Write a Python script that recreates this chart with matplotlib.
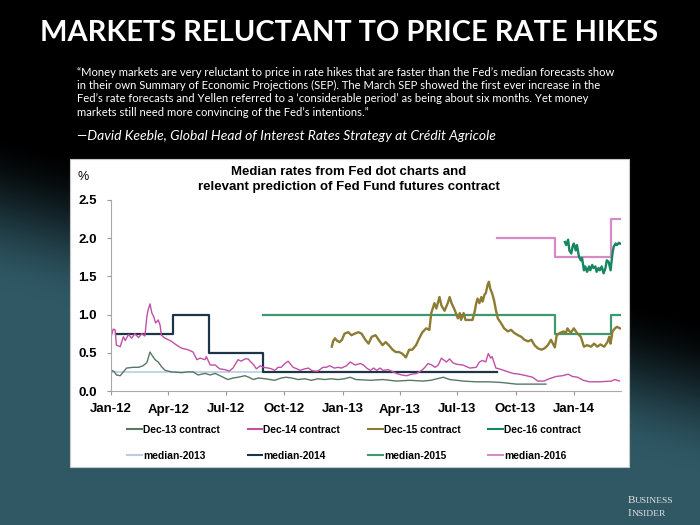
import numpy as np
import pandas as pd
import matplotlib
matplotlib.use('Agg')
import matplotlib.pyplot as plt
import matplotlib.dates as mdates
from matplotlib.patches import Rectangle

# ---- data ----
dec13_dates = ['2012-01-01', '2012-01-03', '2012-01-07', '2012-01-10', '2012-01-16', '2012-01-21',
               '2012-01-26', '2012-02-05', '2012-02-14', '2012-02-21', '2012-02-27', '2012-03-03',
               '2012-03-06', '2012-03-11', '2012-03-16', '2012-03-21', '2012-03-27', '2012-04-06',
               '2012-04-22', '2012-05-02', '2012-05-10', '2012-05-18', '2012-05-29', '2012-06-06',
               '2012-06-14', '2012-06-24', '2012-07-04', '2012-07-12', '2012-07-20', '2012-07-31',
               '2012-08-06', '2012-08-13', '2012-08-21', '2012-09-01', '2012-09-16', '2012-09-26',
               '2012-10-04', '2012-10-13', '2012-10-23', '2012-11-02', '2012-11-13', '2012-11-23',
               '2012-12-04', '2012-12-14', '2012-12-25', '2013-01-04', '2013-01-13', '2013-01-22',
               '2013-02-14', '2013-03-06', '2013-03-27', '2013-04-17', '2013-05-08', '2013-05-20',
               '2013-06-09', '2013-06-19', '2013-06-30', '2013-07-10', '2013-07-31', '2013-08-21',
               '2013-09-11', '2013-10-02', '2013-10-20', '2013-11-18']
dec13_vals = [0.21, 0.27, 0.25, 0.21, 0.20, 0.25,
              0.30, 0.31, 0.31, 0.33, 0.37, 0.51,
              0.47, 0.41, 0.38, 0.32, 0.27, 0.25,
              0.24, 0.25, 0.25, 0.21, 0.23, 0.21,
              0.23, 0.19, 0.15, 0.17, 0.18, 0.20,
              0.18, 0.15, 0.17, 0.16, 0.14, 0.17,
              0.18, 0.17, 0.15, 0.16, 0.14, 0.16,
              0.15, 0.16, 0.15, 0.16, 0.18, 0.15,
              0.14, 0.15, 0.13, 0.14, 0.13, 0.14,
              0.18, 0.15, 0.14, 0.13, 0.12, 0.12,
              0.11, 0.09, 0.09, 0.09]

dec14_dates = ['2012-01-01', '2012-01-05', '2012-01-08', '2012-01-10', '2012-01-16', '2012-01-21',
               '2012-01-24', '2012-01-29', '2012-02-03', '2012-02-08', '2012-02-14', '2012-02-19',
               '2012-02-24', '2012-02-27', '2012-02-29', '2012-03-03', '2012-03-06', '2012-03-09',
               '2012-03-12', '2012-03-16', '2012-03-19', '2012-03-21', '2012-03-27', '2012-04-06',
               '2012-04-14', '2012-04-22', '2012-05-02', '2012-05-10', '2012-05-16', '2012-05-21',
               '2012-05-29', '2012-05-31', '2012-06-06', '2012-06-14', '2012-06-21', '2012-06-29',
               '2012-07-06', '2012-07-12', '2012-07-20', '2012-07-25', '2012-07-31', '2012-08-05',
               '2012-08-08', '2012-08-13', '2012-08-18', '2012-08-24', '2012-08-29', '2012-09-06',
               '2012-09-11', '2012-09-16', '2012-09-21', '2012-09-26', '2012-10-02', '2012-10-07',
               '2012-10-10', '2012-10-15', '2012-10-21', '2012-10-26', '2012-11-02', '2012-11-08',
               '2012-11-13', '2012-11-18', '2012-11-23', '2012-12-01', '2012-12-06', '2012-12-12',
               '2012-12-19', '2012-12-25', '2012-12-30', '2013-01-07', '2013-01-13', '2013-01-21',
               '2013-01-29', '2013-02-03', '2013-02-08', '2013-02-14', '2013-02-19', '2013-02-24',
               '2013-03-01', '2013-03-06', '2013-03-14', '2013-03-22', '2013-03-27', '2013-04-04',
               '2013-04-12', '2013-04-20', '2013-04-28', '2013-05-06', '2013-05-11', '2013-05-16',
               '2013-05-22', '2013-05-27', '2013-06-01', '2013-06-06', '2013-06-09', '2013-06-14',
               '2013-06-19', '2013-06-24', '2013-06-30', '2013-07-10', '2013-07-21', '2013-07-31',
               '2013-08-05', '2013-08-10', '2013-08-15', '2013-08-19', '2013-08-23', '2013-08-25',
               '2013-08-31', '2013-09-05', '2013-09-16', '2013-09-27', '2013-10-07', '2013-10-18',
               '2013-10-28', '2013-11-05', '2013-11-15', '2013-11-23', '2013-12-04', '2013-12-14',
               '2013-12-23', '2013-12-30', '2014-01-07', '2014-01-16', '2014-01-26', '2014-02-10',
               '2014-03-01', '2014-03-07', '2014-03-14']
dec14_vals = [0.69, 0.81, 0.80, 0.60, 0.58, 0.71,
              0.66, 0.74, 0.69, 0.75, 0.70, 0.75,
              0.72, 0.97, 1.06, 1.14, 1.02, 0.97,
              0.89, 0.93, 0.86, 0.73, 0.69, 0.65,
              0.60, 0.56, 0.54, 0.51, 0.41, 0.43,
              0.41, 0.45, 0.34, 0.34, 0.29, 0.28,
              0.26, 0.30, 0.41, 0.39, 0.42, 0.42,
              0.39, 0.35, 0.29, 0.33, 0.31, 0.30,
              0.29, 0.27, 0.31, 0.31, 0.36, 0.39,
              0.36, 0.31, 0.29, 0.27, 0.29, 0.30,
              0.27, 0.26, 0.26, 0.31, 0.31, 0.33,
              0.30, 0.31, 0.30, 0.33, 0.38, 0.34,
              0.36, 0.34, 0.30, 0.27, 0.30, 0.27,
              0.30, 0.27, 0.28, 0.25, 0.23, 0.21,
              0.20, 0.22, 0.23, 0.27, 0.31, 0.36,
              0.34, 0.31, 0.34, 0.43, 0.41, 0.38,
              0.42, 0.37, 0.35, 0.34, 0.30, 0.31,
              0.38, 0.40, 0.38, 0.49, 0.43, 0.45,
              0.30, 0.29, 0.26, 0.23, 0.22, 0.20,
              0.18, 0.13, 0.13, 0.16, 0.19, 0.20,
              0.22, 0.19, 0.18, 0.14, 0.12, 0.12,
              0.13, 0.15, 0.13]

dec15_dates = ['2012-12-15', '2012-12-17', '2012-12-20', '2012-12-23', '2012-12-27', '2012-12-31',
               '2013-01-04', '2013-01-10', '2013-01-15', '2013-01-20', '2013-01-26', '2013-01-31',
               '2013-02-06', '2013-02-11', '2013-02-16', '2013-02-22', '2013-02-27', '2013-03-05',
               '2013-03-10', '2013-03-15', '2013-03-21', '2013-03-26', '2013-03-31', '2013-04-05',
               '2013-04-11', '2013-04-16', '2013-04-21', '2013-04-27', '2013-05-02', '2013-05-07',
               '2013-05-13', '2013-05-18', '2013-05-21', '2013-05-26', '2013-05-29', '2013-06-03',
               '2013-06-06', '2013-06-11', '2013-06-16', '2013-06-19', '2013-06-22', '2013-06-27',
               '2013-07-02', '2013-07-05', '2013-07-07', '2013-07-11', '2013-07-14', '2013-07-21',
               '2013-07-25', '2013-07-28', '2013-07-31', '2013-08-02', '2013-08-05', '2013-08-08',
               '2013-08-10', '2013-08-13', '2013-08-15', '2013-08-18', '2013-08-20', '2013-08-22',
               '2013-08-25', '2013-08-28', '2013-08-31', '2013-09-03', '2013-09-08', '2013-09-13',
               '2013-09-19', '2013-09-24', '2013-09-29', '2013-10-05', '2013-10-10', '2013-10-15',
               '2013-10-21', '2013-10-26', '2013-10-31', '2013-11-05', '2013-11-11', '2013-11-16',
               '2013-11-21', '2013-11-26', '2013-11-29', '2013-12-02', '2013-12-05', '2013-12-10',
               '2013-12-16', '2013-12-19', '2013-12-22', '2013-12-27', '2014-01-01', '2014-01-06',
               '2014-01-12', '2014-01-17', '2014-01-22', '2014-01-28', '2014-02-02', '2014-02-07',
               '2014-02-12', '2014-02-18', '2014-02-23', '2014-02-26', '2014-02-28', '2014-03-03',
               '2014-03-07', '2014-03-10', '2014-03-15']
dec15_vals = [0.58, 0.65, 0.69, 0.66, 0.64, 0.67,
              0.75, 0.77, 0.73, 0.75, 0.77, 0.75,
              0.67, 0.62, 0.71, 0.73, 0.67, 0.60,
              0.64, 0.60, 0.54, 0.51, 0.51, 0.49,
              0.44, 0.54, 0.54, 0.60, 0.69, 0.77,
              0.82, 0.80, 1.02, 1.15, 1.08, 1.23,
              1.12, 1.05, 1.15, 1.23, 1.15, 1.06,
              0.95, 1.02, 0.93, 1.02, 0.93, 0.93,
              0.93, 1.02, 1.15, 1.21, 1.15, 1.23,
              1.17, 1.26, 1.28, 1.39, 1.43, 1.34,
              1.28, 1.19, 1.06, 0.95, 0.89, 0.82,
              0.78, 0.80, 0.76, 0.73, 0.71, 0.67,
              0.65, 0.67, 0.60, 0.56, 0.54, 0.56,
              0.60, 0.67, 0.62, 0.57, 0.73, 0.76,
              0.78, 0.75, 0.82, 0.76, 0.82, 0.76,
              0.71, 0.58, 0.60, 0.58, 0.62, 0.58,
              0.61, 0.58, 0.64, 0.71, 0.62, 0.78,
              0.82, 0.84, 0.82]

dec16_dates = ['2013-12-18', '2013-12-20', '2013-12-23', '2013-12-25', '2013-12-28', '2013-12-30',
               '2014-01-01', '2014-01-04', '2014-01-06', '2014-01-09', '2014-01-12', '2014-01-14',
               '2014-01-17', '2014-01-19', '2014-01-22', '2014-01-25', '2014-01-27', '2014-01-30',
               '2014-02-01', '2014-02-04', '2014-02-06', '2014-02-09', '2014-02-11', '2014-02-14',
               '2014-02-17', '2014-02-20', '2014-02-22', '2014-02-25', '2014-02-28', '2014-03-03',
               '2014-03-05', '2014-03-08', '2014-03-10', '2014-03-13', '2014-03-15']
dec16_vals = [1.95, 1.91, 1.98, 1.84, 1.80, 1.89,
              1.93, 1.84, 1.91, 1.76, 1.71, 1.74,
              1.58, 1.63, 1.56, 1.63, 1.58, 1.65,
              1.61, 1.63, 1.56, 1.61, 1.58, 1.63,
              1.54, 1.61, 1.71, 1.69, 1.58, 1.80,
              1.89, 1.93, 1.91, 1.94, 1.93]

# Fed dot-chart medians (step lines, value holds until next date)
m2013_dates = ['2012-01-01', '2013-09-02']
m2013_vals = [0.25, 0.25]
m2014_dates = ['2012-01-09', '2012-04-09', '2012-06-04', '2012-08-28', '2013-09-02']
m2014_vals = [0.75, 1.00, 0.50, 0.25, 0.25]
m2015_dates = ['2012-08-28', '2013-12-02', '2014-03-01', '2014-03-16']
m2015_vals = [1.00, 0.75, 1.00, 1.00]
m2016_dates = ['2013-09-02', '2013-12-02', '2014-03-01', '2014-03-16']
m2016_vals = [2.00, 1.75, 2.25, 2.25]

quote_lines = [
    '\u201cMoney markets are very reluctant to price in rate hikes that are faster than the Fed\u2019s median forecasts show',
    'in their own Summary of Economic Projections (SEP). The March SEP showed the first ever increase in the',
    'Fed\u2019s rate forecasts and Yellen referred to a \u2018considerable period\u2019 as being about six months. Yet money',
    'markets still need more convincing of the Fed\u2019s intentions.\u201d',
]

W, H = 700, 525
fig = plt.figure(figsize=(7, 5.25), dpi=100)
renderer = fig.canvas.get_renderer()


def fit(txt, width_px):
    # scale the font so the text spans the wanted pixel width
    w = txt.get_window_extent(renderer).width
    txt.set_fontsize(txt.get_fontsize() * width_px / w)
    return txt.get_fontsize()


# background: black at the top fading into dark teal toward the bottom left
bg = fig.add_axes([0, 0, 1, 1], zorder=-10)
yy, xx = np.mgrid[0:1:H * 1j, 0:1:W * 1j]
t = np.clip((yy - (0.25 + 0.35 * xx)) / 0.3, 0, 1)
t = t * t * (3 - 2 * t)
teal = np.array([47, 88, 100]) / 255
bg.imshow(t[..., None] * teal, extent=[0, 1, 0, 1], aspect='auto')
bg.axis('off')

# slide title and quote
title = fig.text(349 / W, 1 - 33 / H, 'MARKETS RELUCTANT TO PRICE RATE HIKES', color='white',
                 family='Lato', weight='bold', fontsize=20, ha='center', va='center')
fit(title, 618)

qs = []
for i, line in enumerate(quote_lines):
    qs.append(fig.text(77 / W, 1 - [72, 85.5, 99, 113][i] / H, line, color='white',
                       family='Lato', fontsize=9, ha='left', va='center'))
size = fit(qs[0], 541)
for q in qs:
    q.set_fontsize(size)

attr = fig.text(77 / W, 1 - 136 / H,
                '\u2014David Keeble, Global Head of Interest Rates Strategy at Cr\u00e9dit Agricole',
                color='white', family='Lato', style='italic', fontsize=11, ha='left', va='center')
fit(attr, 418)

# white chart panel
fig.add_artist(Rectangle((70 / W, 1 - 467 / H), 559 / W, 308 / H, transform=fig.transFigure,
                         facecolor='white', edgecolor='#c8c8c8', lw=0.8, zorder=-5))

ax = fig.add_axes([110.7 / W, 1 - 391 / H, 510 / W, 191 / H])
ax.set_facecolor('none')

c_dec13, c_dec14, c_dec15, c_dec16 = '#587866', '#c24fa6', '#8c7c32', '#15865f'
c_m13, c_m14, c_m15, c_m16 = '#b9cde0', '#1d3548', '#3f9870', '#d68ac6'

h_m13, = ax.step(pd.to_datetime(m2013_dates), m2013_vals, where='post', color=c_m13, lw=1.2,
                 label='median-2013')
h_m14, = ax.step(pd.to_datetime(m2014_dates), m2014_vals, where='post', color=c_m14, lw=1.6,
                 label='median-2014')
h_m15, = ax.step(pd.to_datetime(m2015_dates), m2015_vals, where='post', color=c_m15, lw=1.6,
                 label='median-2015')
h_m16, = ax.step(pd.to_datetime(m2016_dates), m2016_vals, where='post', color=c_m16, lw=1.6,
                 label='median-2016')
h_d13, = ax.plot(pd.to_datetime(dec13_dates), dec13_vals, color=c_dec13, lw=1.0, label='Dec-13 contract')
h_d14, = ax.plot(pd.to_datetime(dec14_dates), dec14_vals, color=c_dec14, lw=1.0, label='Dec-14 contract')
h_d15, = ax.plot(pd.to_datetime(dec15_dates), dec15_vals, color=c_dec15, lw=1.7, label='Dec-15 contract')
h_d16, = ax.plot(pd.to_datetime(dec16_dates), dec16_vals, color=c_dec16, lw=1.7, label='Dec-16 contract')

ax.set_xlim(pd.Timestamp('2012-01-01'), pd.Timestamp('2014-03-16'))
ax.set_ylim(0, 2.5)
ax.set_yticks(np.arange(0, 2.51, 0.5))
ax.yaxis.set_major_formatter(matplotlib.ticker.FormatStrFormatter('%.1f'))
ax.set_xticks(pd.date_range('2012-01-01', '2014-01-01', freq='QS'))
ax.xaxis.set_major_formatter(mdates.DateFormatter('%b-%y'))
for lab in ax.get_xticklabels() + ax.get_yticklabels():
    lab.set_family('Liberation Sans')
    lab.set_weight('bold')
    lab.set_fontsize(9.5)
ax.tick_params(axis='both', direction='out', length=3, color='#999999', width=0.8)
ax.tick_params(axis='x', pad=6)
ax.tick_params(axis='y', pad=7)
for side in ['top', 'right']:
    ax.spines[side].set_visible(False)
for side in ['left', 'bottom']:
    ax.spines[side].set_color('#a8a8a8')
    ax.spines[side].set_linewidth(0.8)

# chart title and unit
t1 = fig.text(349 / W, 1 - 172.3 / H, 'Median rates from Fed dot charts and', family='Liberation Sans',
              weight='bold', fontsize=9.5, ha='center', va='center')
t2 = fig.text(349 / W, 1 - 187.3 / H, 'relevant prediction of Fed Fund futures contract',
              family='Liberation Sans', weight='bold', fontsize=9.5, ha='center', va='center')
t1.set_fontsize(fit(t2, 302))
fig.text(82.7 / W, 1 - 176.7 / H, '%', family='Liberation Sans', fontsize=9, ha='center', va='center')

# legend: two rows of four, filled column by column
handles = [h_d13, h_m13, h_d14, h_m14, h_d15, h_m15, h_d16, h_m16]
leg = fig.legend(handles=handles, labels=[h.get_label() for h in handles], ncol=4,
                 loc='center', bbox_to_anchor=(354 / W, 1 - 443 / H), frameon=False,
                 prop={'family': 'Liberation Sans', 'weight': 'bold', 'size': 7.4},
                 handlelength=1.45, handletextpad=0.1, columnspacing=2.7, labelspacing=1.55)
for line in leg.get_lines():
    line.set_linewidth(1.5)

# logo in small caps: bigger first letter, smaller rest
for word, yc in [('BUSINESS', 503), ('INSIDER', 516)]:
    first = fig.text(627.7 / W, 1 - yc / H, word[0], family='Liberation Serif', color='#e2e2e2',
                     fontsize=8, ha='left', va='baseline')
    x_next = first.get_window_extent(renderer).x1 / W
    fig.text(x_next, 1 - yc / H, word[1:], family='Liberation Serif', color='#e2e2e2',
             fontsize=6.8, ha='left', va='baseline')

fig.savefig('out.png', dpi=100)
